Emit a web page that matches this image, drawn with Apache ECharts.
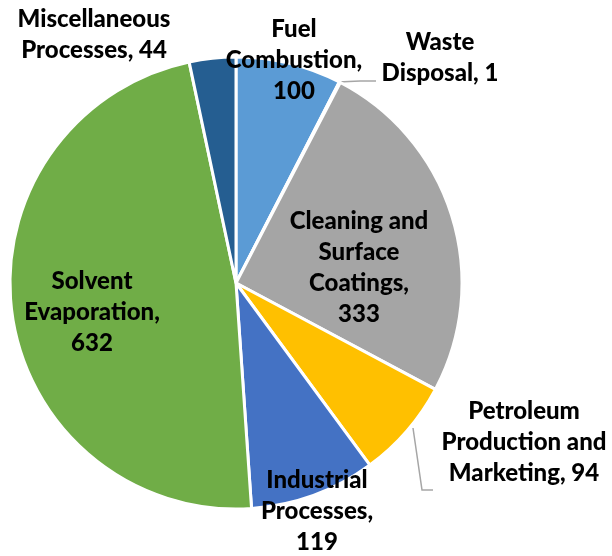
<!DOCTYPE html>
<html>
<head>
<meta charset="utf-8">
<script src="https://cdn.jsdelivr.net/npm/echarts@6/dist/echarts.min.js"></script>
<style>
  html, body { margin: 0; padding: 0; background: #fff; }
  #chart { width: 612px; height: 556px; }
</style>
</head>
<body>
<div id="chart"></div>
<script>
// categories (with the line breaks used in the labels) and values
const categories = [
  "Fuel\nCombustion",
  "Waste\nDisposal",
  "Cleaning and\nSurface\nCoatings",
  "Petroleum\nProduction and\nMarketing",
  "Industrial\nProcesses",
  "Solvent\nEvaporation",
  "Miscellaneous\nProcesses"
];
const values = [100, 1, 333, 94, 119, 632, 44];
// value goes on its own line for these labels
const valueOnNewLine = [true, false, true, false, true, true, false];
const colors = ["#5B9BD5", "#ED7D31", "#A5A5A5", "#FFC000", "#4472C4", "#70AD47", "#255E91"];

// label centre positions (layout only)
const labelPos = [
  [294, 60], [440, 58], [359, 268], [524, 442], [317, 511], [92, 312], [94, 35]
];
// leader lines for the labels placed outside
const linePoints = {
  1: [[338, 82], [360, 81], [376, 81]],
  3: [[413, 428], [422, 490], [433, 490]]
};

const chart = echarts.init(document.getElementById("chart"));

const option = {
  animation: false,
  series: [
    {
      type: "pie",
      center: [236, 283],
      radius: [0, 226],
      startAngle: 90,
      clockwise: true,
      avoidLabelOverlap: false,
      data: categories.map((c, i) => ({
        name: c,
        value: values[i],
        itemStyle: { color: colors[i] },
        labelLine: { show: !!linePoints[i] }
      })),
      itemStyle: { borderColor: "#fff", borderWidth: 3 },
      label: {
        show: true,
        position: "outside",
        fontFamily: "Lato",
        fontWeight: 900,
        fontSize: 24,
        lineHeight: 31,
        color: "#000",
        align: "center",
        formatter: function (p) {
          const i = p.dataIndex;
          return p.name + "," + (valueOnNewLine[i] ? "\n" : " ") + values[i];
        }
      },
      labelLine: {
        lineStyle: { color: "#A6A6A6", width: 1.5 }
      },
      labelLayout: function (params) {
        const i = params.dataIndex;
        const out = {
          x: labelPos[i][0],
          y: labelPos[i][1],
          align: "center",
          verticalAlign: "middle"
        };
        if (linePoints[i]) out.labelLinePoints = linePoints[i];
        return out;
      }
    }
  ]
};

chart.setOption(option);
</script>
</body>
</html>
